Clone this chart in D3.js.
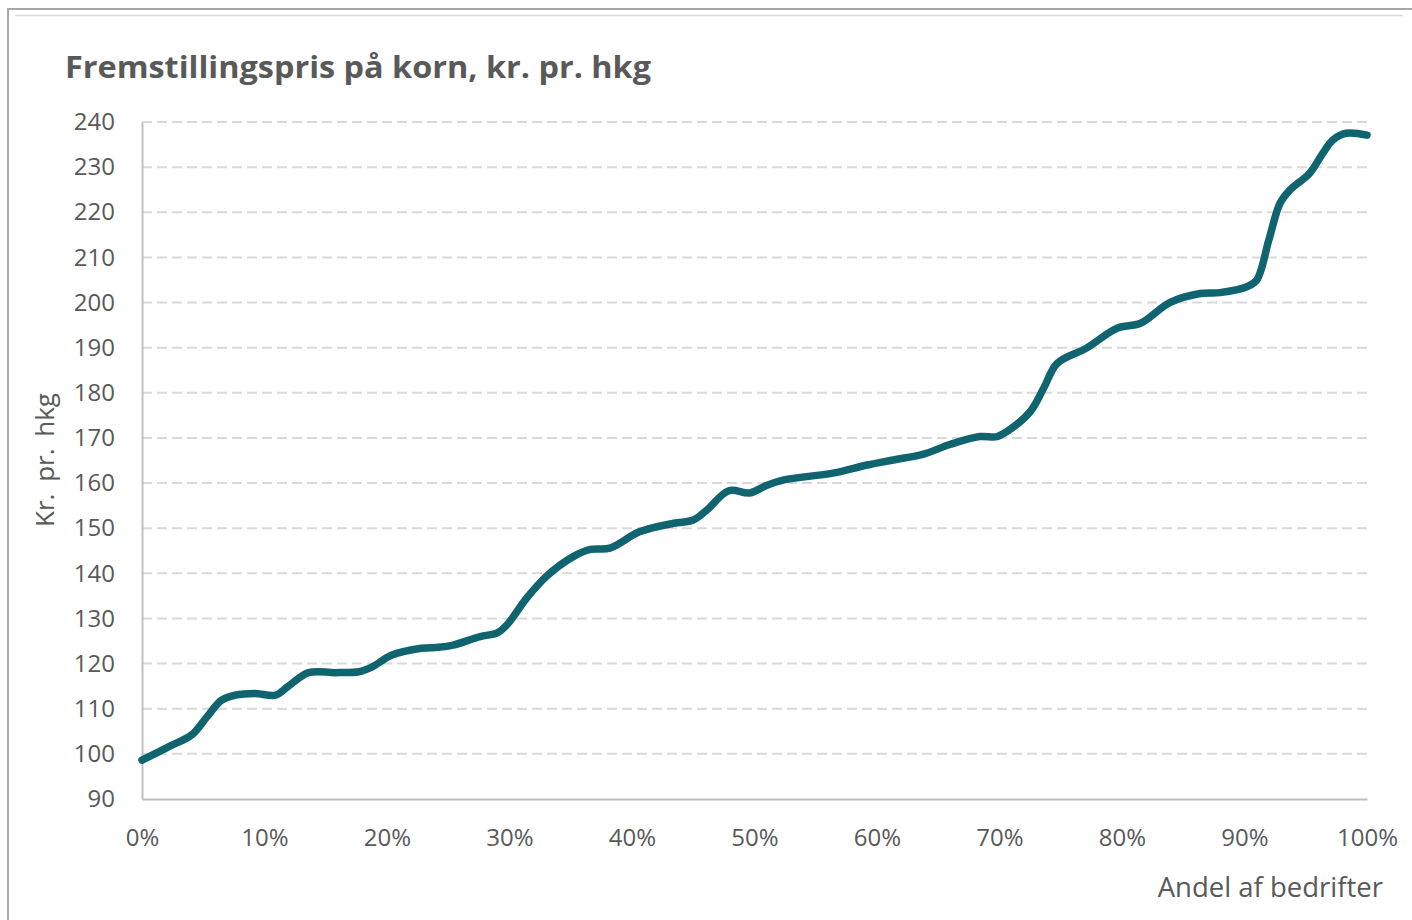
<!DOCTYPE html>
<html>
<head>
<meta charset="utf-8">
<script src="https://cdn.jsdelivr.net/npm/d3@7"></script>
<style>
  html, body { margin: 0; padding: 0; background: #ffffff; }
  svg { display: block; }
</style>
</head>
<body>
<svg id="chart" width="1412" height="920"></svg>
<script>
// ---- Data ----
const title = "Fremstillingspris på korn, kr. pr. hkg";
const yAxisTitle = "Kr. pr. hkg";
const xAxisTitle = "Andel af bedrifter";

// share of farms (%)
const shares = [0, 2.2, 4.1, 5.3, 6.5, 7.6, 9.2, 10.9, 11.9, 13.6, 15.8, 17.7, 18.8, 20.4, 22.8, 24.2, 25.4,
  27.6, 29.0, 29.8, 31.4, 33.0, 35.2, 36.6, 38.2, 40.6, 43.4, 45.0, 46.1, 47.9, 49.6, 51.0, 52.4,
  56.4, 59.2, 61.3, 63.8, 66.0, 68.4, 69.8, 70.6, 72.5, 73.6, 74.7, 77.1, 79.6, 81.5, 83.9, 86.4,
  88.0, 90.2, 91.0, 92.0, 92.9, 93.7, 95.3, 96.4, 97.2, 98.3, 100];
// production price (kr. pr. hkg)
const prices = [98.6, 101.6, 104.3, 108.2, 111.9, 113.0, 113.4, 113.0, 114.9, 118.0, 118.0, 118.2, 119.3, 121.9, 123.4, 123.6, 124.1,
  126.0, 126.8, 128.6, 134.5, 139.3, 143.7, 145.3, 145.6, 149.2, 151.1, 151.8, 154.0, 158.3, 157.8, 159.5, 160.7,
  162.2, 164.0, 165.1, 166.4, 168.6, 170.3, 170.3, 171.4, 175.8, 181.0, 186.5, 189.9, 194.3, 195.4, 200.0, 202.0,
  202.2, 203.5, 205.0, 214.0, 222.0, 224.9, 228.6, 233.1, 236.0, 237.5, 237.1];

const yTicks = [90, 100, 110, 120, 130, 140, 150, 160, 170, 180, 190, 200, 210, 220, 230, 240];
const xTicks = [0, 10, 20, 30, 40, 50, 60, 70, 80, 90, 100];

// ---- Layout ----
const svg = d3.select("#chart");
const textColor = "#595959";
const font = "'Open Sans', 'DejaVu Sans', sans-serif";

const x = d3.scaleLinear().domain([0, 100]).range([142, 1367]);
const y = d3.scaleLinear().domain([90, 240]).range([799, 122]);

// outer frame
svg.append("path")
  .attr("d", "M8,925 L8,9 L1420,9")
  .attr("fill", "none").attr("stroke", "#a6a6a6").attr("stroke-width", 2);
svg.append("line")
  .attr("x1", 15).attr("x2", 1403).attr("y1", 15.5).attr("y2", 15.5)
  .attr("stroke", "#d9d9d9").attr("stroke-width", 1.5);

// title
svg.append("text")
  .attr("x", 65).attr("y", 78)
  .attr("fill", textColor)
  .attr("font-family", font)
  .attr("font-weight", "bold")
  .attr("font-size", 31)
  .attr("textLength", 586)
  .attr("lengthAdjust", "spacingAndGlyphs")
  .text(title);

// gridlines
svg.append("g").selectAll("line")
  .data(yTicks.filter(d => d > 90))
  .join("line")
  .attr("x1", x(0)).attr("x2", x(100))
  .attr("y1", d => y(d)).attr("y2", d => y(d))
  .attr("stroke", "#d9d9d9")
  .attr("stroke-width", 2)
  .attr("stroke-dasharray", "10,5");

// y axis
const gy = svg.append("g")
  .attr("transform", `translate(${x(0)},0)`)
  .call(d3.axisLeft(y).tickValues(yTicks).tickSize(0).tickPadding(27));
gy.select(".domain").attr("stroke", "#bfbfbf").attr("stroke-width", 2);
gy.selectAll("text")
  .attr("fill", textColor).attr("font-family", font).attr("font-size", 24);

// x axis
const gx = svg.append("g")
  .attr("transform", `translate(0,${y(90)})`)
  .call(d3.axisBottom(x).tickValues(xTicks).tickSize(0).tickPadding(30).tickFormat(d => d + "%"));
gx.select(".domain").attr("stroke", "#bfbfbf").attr("stroke-width", 2);
gx.selectAll("text")
  .attr("fill", textColor).attr("font-family", font).attr("font-size", 24);

// axis titles
svg.append("text")
  .attr("transform", "translate(54,460) rotate(-90)")
  .attr("text-anchor", "middle")
  .attr("fill", textColor).attr("font-family", font).attr("font-size", 26)
  .attr("word-spacing", 5)
  .text(yAxisTitle);

svg.append("text")
  .attr("x", 1383).attr("y", 897)
  .attr("text-anchor", "end")
  .attr("fill", textColor).attr("font-family", font).attr("font-size", 27.5)
  .text(xAxisTitle);

// line
const data = shares.map((s, i) => ({ s, p: prices[i] }));
const line = d3.line()
  .x(d => x(d.s))
  .y(d => y(d.p))
  .curve(d3.curveCatmullRom.alpha(0.5));

svg.append("path")
  .datum(data)
  .attr("d", line)
  .attr("fill", "none")
  .attr("stroke", "#10646f")
  .attr("stroke-width", 7.5)
  .attr("stroke-linecap", "round")
  .attr("stroke-linejoin", "round");
</script>
</body>
</html>
